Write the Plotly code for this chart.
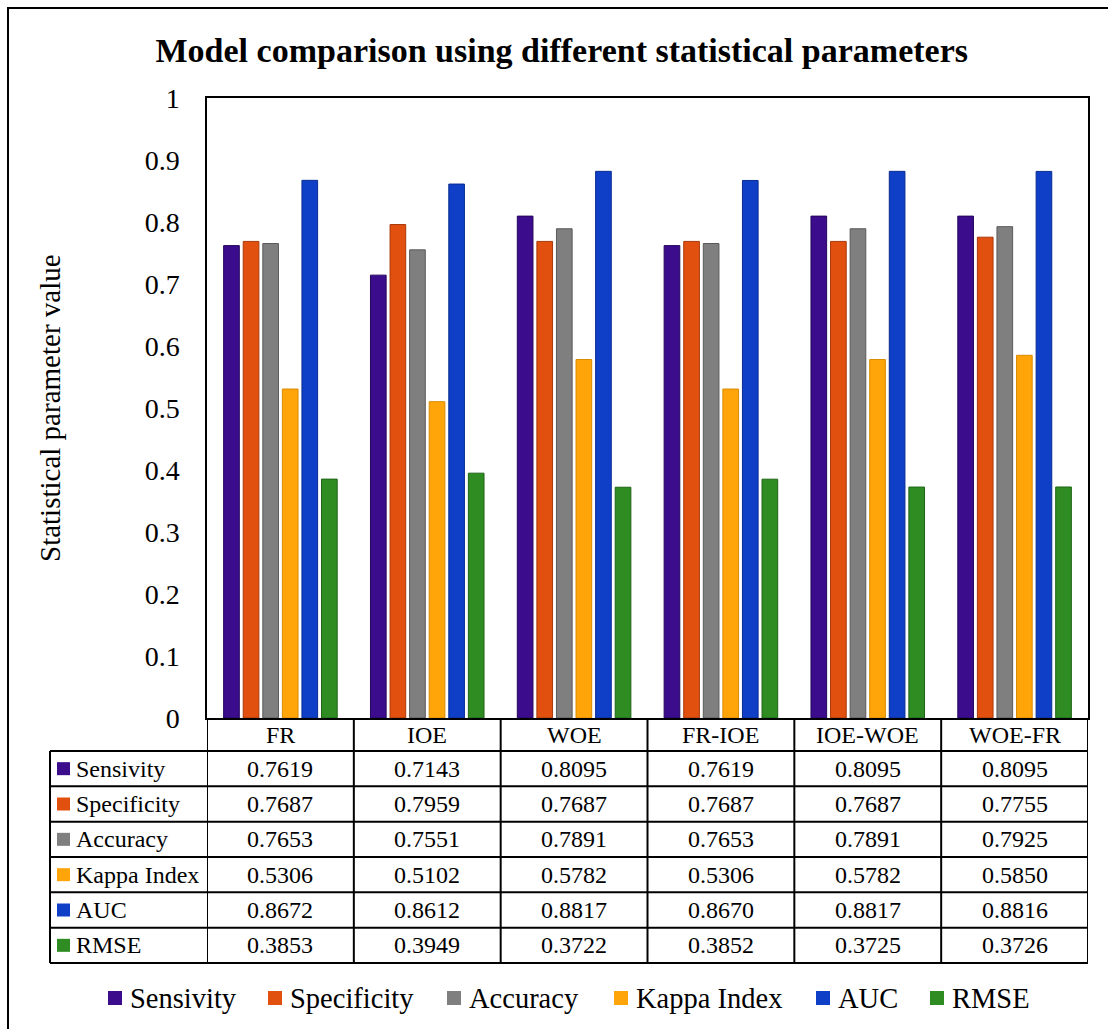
import plotly.graph_objects as go

# Models compared and the statistical parameters reported for each
models = ["FR", "IOE", "WOE", "FR-IOE", "IOE-WOE", "WOE-FR"]
param_names = ["Sensivity", "Specificity", "Accuracy", "Kappa Index", "AUC", "RMSE"]

sensivity = [0.7619, 0.7143, 0.8095, 0.7619, 0.8095, 0.8095]
specificity = [0.7687, 0.7959, 0.7687, 0.7687, 0.7687, 0.7755]
accuracy = [0.7653, 0.7551, 0.7891, 0.7653, 0.7891, 0.7925]
kappa_index = [0.5306, 0.5102, 0.5782, 0.5306, 0.5782, 0.5850]
auc = [0.8672, 0.8612, 0.8817, 0.8670, 0.8817, 0.8816]
rmse = [0.3853, 0.3949, 0.3722, 0.3852, 0.3725, 0.3726]

y_ticks = [0, 0.1, 0.2, 0.3, 0.4, 0.5, 0.6, 0.7, 0.8, 0.9, 1]
y_tick_text = ["0", "0.1", "0.2", "0.3", "0.4", "0.5", "0.6", "0.7", "0.8", "0.9", "1"]

series = [sensivity, specificity, accuracy, kappa_index, auc, rmse]
colors = ["#3b0c8c", "#e2500f", "#7f7f7f", "#ffa50a", "#0f3fc6", "#2f8c22"]
edges = ["#25065c", "#a8380a", "#5a5a5a", "#d98a00", "#0a2c92", "#1f6416"]

FONT = "Times New Roman, Liberation Serif, serif"
W, H = 1108, 1029
L, R, T, B = 207, 1088, 98, 718  # plot area in pixels


def px_x(p):
    return (p - L) / (R - L)


def px_y(p):
    return (B - p) / (B - T)


fig = go.Figure()
for name, vals, col, edge in zip(param_names, series, colors, edges):
    fig.add_trace(go.Bar(
        x=models, y=vals, name=name, showlegend=False,
        marker=dict(color=col, line=dict(color=edge, width=1)),
    ))

shapes = []
annotations = []

# Outer frame around the whole figure
shapes.append(dict(type="rect", xref="paper", yref="paper",
                   x0=px_x(8), x1=px_x(1112), y0=px_y(1035), y1=px_y(8),
                   line=dict(color="black", width=2), layer="below"))

# Data table under the plot
header_bottom = 751
table_bottom = 963
row_h = (table_bottom - header_bottom) / len(param_names)
row_lines = [header_bottom + i * row_h for i in range(len(param_names) + 1)]
line_style = dict(color="black", width=2)
cell_font = dict(family=FONT, size=24, color="black")

for yl in row_lines:
    shapes.append(dict(type="line", xref="paper", yref="paper",
                       x0=px_x(50), x1=1, y0=px_y(yl), y1=px_y(yl), line=line_style))
# left edge of the label column
shapes.append(dict(type="line", xref="paper", yref="paper",
                   x0=px_x(50), x1=px_x(50), y0=px_y(header_bottom), y1=px_y(table_bottom),
                   line=line_style))
# column separators at category boundaries
for i in range(len(models) + 1):
    shapes.append(dict(type="line", xref="x", yref="paper",
                       x0=i - 0.5, x1=i - 0.5, y0=0, y1=px_y(table_bottom),
                       line=line_style))

# header row: model names
for m in models:
    annotations.append(dict(xref="x", yref="paper", x=m, y=px_y((B + header_bottom) / 2),
                            text=m, showarrow=False, xanchor="center", yanchor="middle",
                            font=cell_font))

for r, (name, vals, col) in enumerate(zip(param_names, series, colors)):
    yc = header_bottom + (r + 0.5) * row_h
    shapes.append(dict(type="rect", xref="paper", yref="paper",
                       x0=px_x(57), x1=px_x(70), y0=px_y(yc + 6.5), y1=px_y(yc - 6.5),
                       fillcolor=col, line=dict(width=0)))
    annotations.append(dict(xref="paper", yref="paper", x=px_x(74), y=px_y(yc),
                            text=name, showarrow=False, xanchor="left", yanchor="middle",
                            font=cell_font))
    for m, v in zip(models, vals):
        annotations.append(dict(xref="x", yref="paper", x=m, y=px_y(yc),
                                text=f"{v:.4f}", showarrow=False,
                                xanchor="center", yanchor="middle", font=cell_font))

# Legend row beneath the table
legend_y = 998
legend_x = [108, 268, 447, 614, 816, 930]
for name, col, lx in zip(param_names, colors, legend_x):
    shapes.append(dict(type="rect", xref="paper", yref="paper",
                       x0=px_x(lx), x1=px_x(lx + 14), y0=px_y(legend_y + 7), y1=px_y(legend_y - 7),
                       fillcolor=col, line=dict(width=0)))
    annotations.append(dict(xref="paper", yref="paper", x=px_x(lx + 20), y=px_y(legend_y),
                            text=name, showarrow=False, xanchor="left", yanchor="middle",
                            font=dict(family=FONT, size=28.5, color="black")))

# Vertical axis title
annotations.append(dict(xref="paper", yref="paper", x=px_x(50), y=px_y(408),
                        text="Statistical parameter value", textangle=-90, showarrow=False,
                        xanchor="center", yanchor="middle",
                        font=dict(family=FONT, size=29, color="black")))

fig.update_layout(
    width=W, height=H,
    margin=dict(l=L, r=W - R, t=T, b=H - B, pad=0),
    paper_bgcolor="white", plot_bgcolor="white",
    barmode="group", bargap=0.2, bargroupgap=0.2,
    showlegend=False,
    title=dict(text="<b>Model comparison using different statistical parameters</b>",
               x=0.507, xanchor="center", y=1 - 50 / H, yanchor="middle",
               font=dict(family=FONT, size=34, color="black")),
    font=dict(family=FONT, color="black"),
    xaxis=dict(type="category", range=[-0.5, 5.5], showgrid=False,
               showline=True, linecolor="black", linewidth=1.5, mirror=True,
               ticks="", showticklabels=False),
    yaxis=dict(range=[0, 1], tickvals=y_ticks, ticktext=y_tick_text, showgrid=False,
               showline=True, linecolor="black", linewidth=1.5, mirror=True,
               ticks="", zeroline=False, ticklabelstandoff=20,
               tickfont=dict(family=FONT, size=28, color="black")),
    shapes=shapes,
    annotations=annotations,
)

fig.write_html("out.html")
